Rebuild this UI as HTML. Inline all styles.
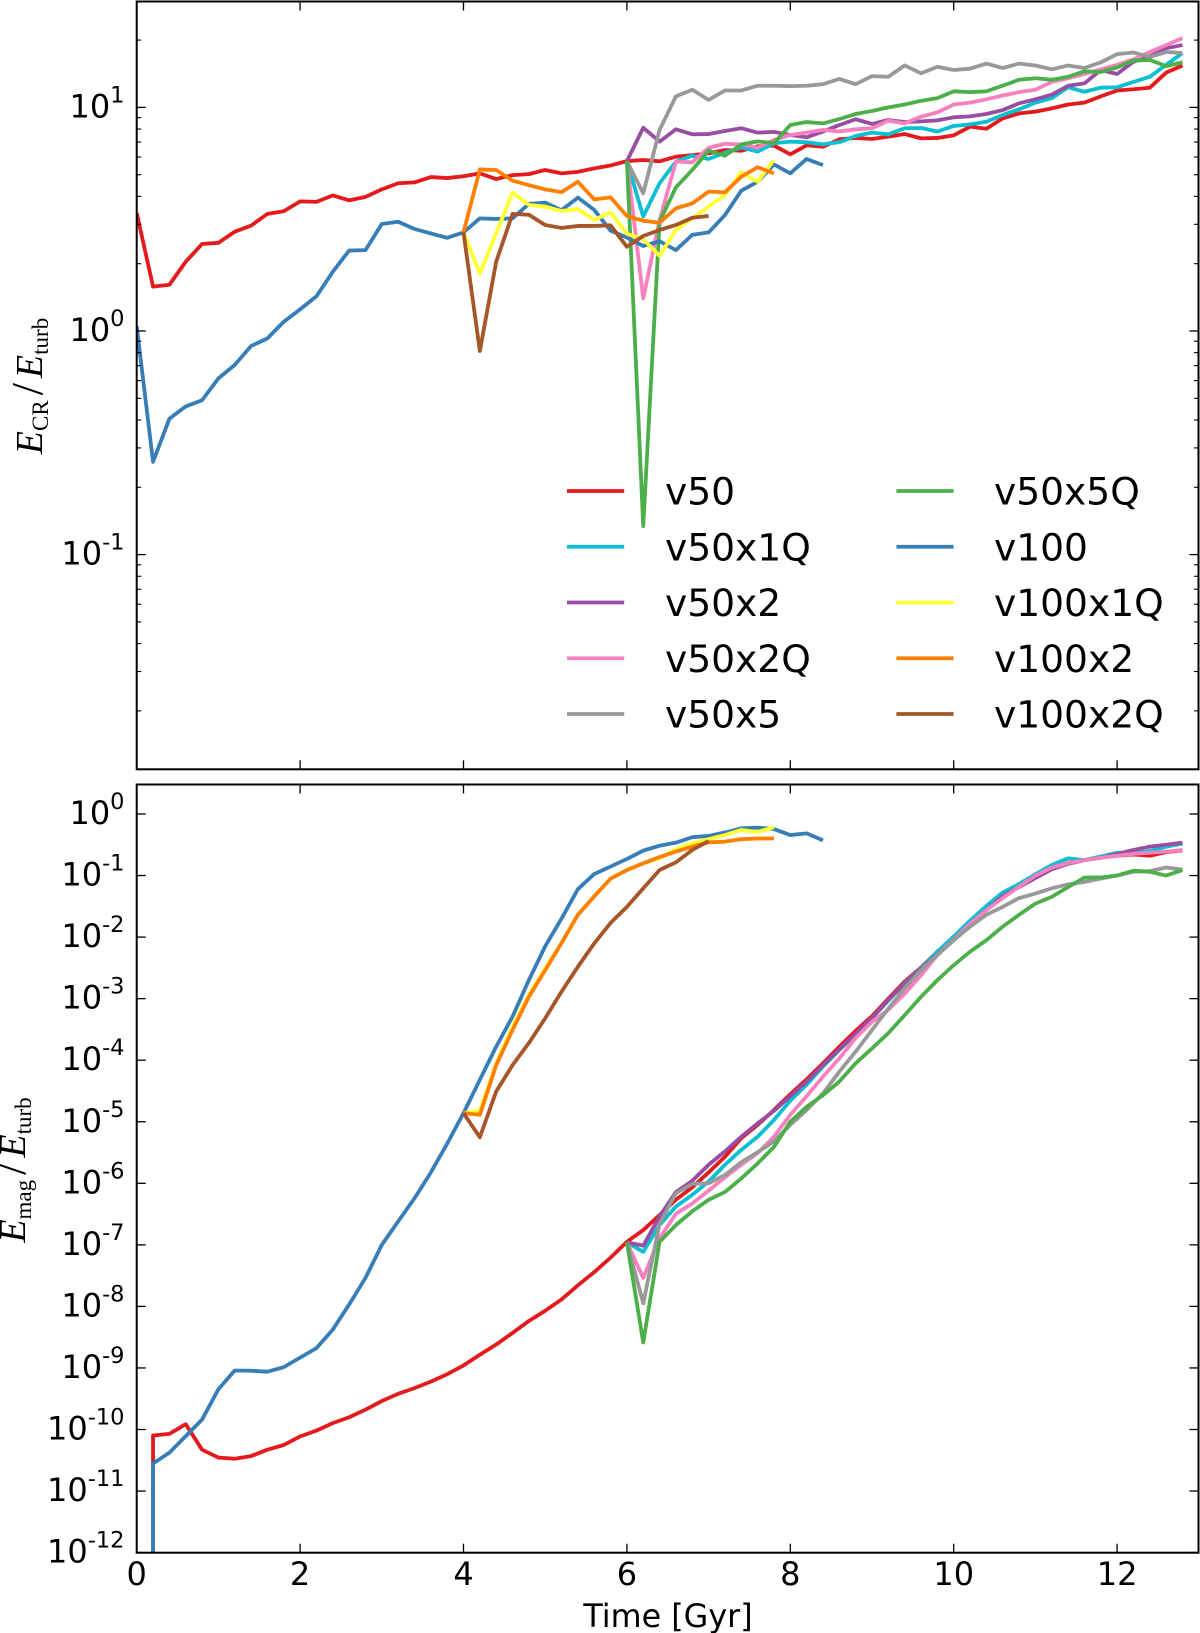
<!DOCTYPE html>
<html lang="en">
<head>
<meta charset="utf-8">
<title>Energy ratios over time</title>
<style>
html,body{margin:0;padding:0;background:#fff;}
svg{display:block;}
text{font-family:"DejaVu Sans","Liberation Sans",sans-serif;fill:#000;}
.serif,.serif tspan{font-family:"Liberation Serif","DejaVu Serif",serif;}
</style>
</head>
<body>
<svg id="chart" xmlns="http://www.w3.org/2000/svg" width="1200" height="1633" viewBox="0 0 1200 1633">
<defs>
<clipPath id="clipCr"><rect x="136.7" y="1.5" width="1061.8" height="767.8"/></clipPath>
<clipPath id="clipMag"><rect x="136.7" y="784.5" width="1061.8" height="768.2"/></clipPath>
</defs>
<rect width="1200" height="1633" fill="#fff"/>
<g id="crLines" clip-path="url(#clipCr)"></g>
<g id="magLines" clip-path="url(#clipMag)"></g>
<g id="axes"></g>
<g id="legend"></g>
<text class="serif" transform="translate(42,386) rotate(-90)" text-anchor="middle" font-size="38"><tspan font-style="italic">E</tspan><tspan font-size="23" dy="6">CR</tspan><tspan dy="-6" dx="5" font-size="44">/</tspan><tspan font-style="italic" dx="5">E</tspan><tspan font-size="23" dy="6">turb</tspan></text>
<text class="serif" transform="translate(25,1170) rotate(-90)" text-anchor="middle" font-size="38"><tspan font-style="italic">E</tspan><tspan font-size="23" dy="6">mag</tspan><tspan dy="-6" dx="5" font-size="44">/</tspan><tspan font-style="italic" dx="5">E</tspan><tspan font-size="23" dy="6">turb</tspan></text>
<text x="668" y="1627" text-anchor="middle" font-size="31.8">Time [Gyr]</text>
</svg>
<script>
const times = [0,0.2,0.4,0.6,0.8,1,1.2,1.4,1.6,1.8,2,2.2,2.4,2.6,2.8,3,3.2,3.4,3.6,3.8,4,4.2,4.4,4.6,4.8,5,5.2,5.4,5.6,5.8,6,6.2,6.4,6.6,6.8,7,7.2,7.4,7.6,7.8,8,8.2,8.4,8.6,8.8,9,9.2,9.4,9.6,9.8,10,10.2,10.4,10.6,10.8,11,11.2,11.4,11.6,11.8,12,12.2,12.4,12.6,12.8];

const seriesNames = ['v50','v50x1Q','v50x2','v50x2Q','v50x5','v50x5Q','v100','v100x1Q','v100x2','v100x2Q'];
const seriesColors = ['#e41a1c','#0abfd2','#984ea3','#f781bf','#999999','#4daf4a','#377eb8','#ffff33','#ff7f00','#a65628'];

const xTicks = [0,2,4,6,8,10,12];
const crTickExps = [1,0,-1];
const magTickExps = [0,-1,-2,-3,-4,-5,-6,-7,-8,-9,-10,-11,-12];
const crMinorDecades = [-2,-1,0,1];
const crMinorFactors = [2,3,4,5,6,7,8,9];

/* E_CR / E_turb, first value at the start time listed in crStarts */
const crStarts = [0,6,6,6,6,6,0,4,4,4];
const crV50 = [3.37,1.58,1.61,2.04,2.45,2.48,2.78,2.96,3.34,3.43,3.80,3.78,4.04,3.84,3.98,4.30,4.58,4.62,4.88,4.83,4.92,5.07,4.78,4.98,5.03,5.25,5.07,5.15,5.34,5.5,5.75,5.82,5.74,6.02,6.12,6.23,6.45,6.40,6.70,6.75,6.17,6.77,6.67,7.2,7.3,7.22,7.4,7.6,7.27,7.3,7.5,8.2,8.03,8.93,9.4,9.57,9.9,10.3,10.5,11.2,11.9,12.05,12.25,14.3,15.4];
const crV50x1Q = [5.75,3.25,4.58,5.72,6.08,5.88,6.27,6.62,6.34,6.91,7.03,6.98,6.83,6.99,7.45,7.71,7.58,8.07,8.09,7.8,8.26,8.4,8.63,9.25,9.8,10.5,11.0,12.3,11.75,12.25,12.3,13.0,13.7,15.5,17.5];
const crV50x2 = [5.75,8.11,7.03,7.98,7.58,7.60,7.84,8.07,7.71,7.77,7.53,7.35,7.80,8.34,8.85,8.43,8.78,8.60,8.66,8.75,9.03,9.12,9.34,9.73,10.43,10.87,11.4,12.5,12.8,14.7,14.1,16.0,16.9,18.4,19.0];
const crV50x2Q = [5.75,1.40,3.13,5.72,5.68,6.60,6.88,6.83,6.60,7.15,7.53,7.71,7.93,7.8,7.98,8.07,8.72,8.48,9.09,9.5,10.3,10.5,10.87,11.3,11.7,12.0,13.0,13.5,14.1,14.8,15.5,16.4,17.7,19.0,20.4];
const crV50x5 = [5.75,4.13,7.93,11.2,12.0,10.8,11.9,11.9,12.5,12.5,12.45,12.5,12.7,13.4,12.7,13.8,13.7,15.4,14.2,15.2,14.7,14.9,15.7,15.0,15.7,15.4,14.8,15.4,15.0,15.9,17.3,17.6,16.8,17.7,17.5];
const crV50x5Q = [5.75,0.134,3.08,4.39,5.25,6.41,6.08,6.83,7.05,6.91,8.34,8.6,8.48,8.87,9.34,9.64,10,10.3,10.7,11.0,11.8,11.7,11.8,12.5,13.3,13.5,13.3,13.7,14.5,14.4,15.1,16.2,16.3,15.3,15.9];
const crV100 = [1.05,0.26,0.405,0.46,0.49,0.614,0.705,0.857,0.927,1.10,1.25,1.43,1.84,2.29,2.30,3.01,3.08,2.86,2.73,2.61,2.76,3.19,3.17,3.19,3.70,3.75,3.47,3.95,3.48,2.81,2.62,2.40,2.52,2.30,2.69,2.76,3.30,4.24,4.65,5.56,5.07,5.88,5.52];
const crV100x1Q = [2.76,1.81,2.73,4.16,3.66,3.60,3.44,3.51,3.14,3.40,2.72,2.57,2.17,2.83,3.19,3.60,4.06,5.12,4.65,5.82];
const crV100x2 = [2.76,5.28,5.25,4.70,4.49,4.30,4.18,4.65,3.88,3.96,3.27,3.11,3.05,3.54,3.72,4.20,4.17,4.90,5.40,5.07];
const crV100x2Q = [2.76,0.814,2.04,3.34,3.31,2.98,2.89,2.95,2.95,2.97,2.38,2.66,2.83,2.98,3.21,3.27];
const crSeries = [crV50,crV50x1Q,crV50x2,crV50x2Q,crV50x5,crV50x5Q,crV100,crV100x1Q,crV100x2,crV100x2Q];

/* E_mag / E_turb */
const magStarts = [0.2,6,6,6,6,6,0.2,4,4,4];
const magFloor = 1e-14;
const magV50 = [8e-11,8.5e-11,1.22e-10,4.7e-11,3.5e-11,3.35e-11,3.7e-11,4.7e-11,5.6e-11,7.7e-11,9.6e-11,1.27e-10,1.58e-10,2.1e-10,2.9e-10,3.8e-10,4.7e-10,6e-10,7.9e-10,1.1e-9,1.64e-9,2.4e-9,3.7e-9,5.8e-9,8.5e-9,1.3e-8,2.2e-8,3.6e-8,6.2e-8,1.12e-7,1.74e-7,3.05e-7,5.4e-7,8.6e-7,1.5e-6,2.7e-6,5.4e-6,8.9e-6,1.55e-5,2.8e-5,4.9e-5,8.9e-5,1.66e-4,3e-4,5.2e-4,1e-3,1.9e-3,3.2e-3,5.8e-3,9.6e-3,1.8e-2,3.1e-2,4.8e-2,7e-2,0.102,0.135,0.16,0.178,0.195,0.21,0.22,0.21,0.24,0.257];
const magV50x1Q = [1.1e-7,7.7e-8,2.1e-7,4.2e-7,6.5e-7,1.07e-6,2e-6,3.5e-6,5.7e-6,1.07e-5,2.2e-5,4e-5,7.9e-5,1.47e-4,2.6e-4,4.8e-4,9.3e-4,1.8e-3,3.1e-3,5.8e-3,1.02e-2,1.85e-2,3.2e-2,5.3e-2,7.3e-2,0.105,0.148,0.19,0.178,0.204,0.235,0.23,0.25,0.295,0.33];
const magV50x2 = [1.1e-7,9.7e-8,2.9e-7,7.2e-7,1.1e-6,2e-6,3.3e-6,5.7e-6,9.4e-6,1.5e-5,2.6e-5,4.5e-5,8.3e-5,1.5e-4,2.7e-4,4.9e-4,9.5e-4,1.75e-3,3e-3,5.2e-3,8.9e-3,1.6e-2,2.75e-2,4.6e-2,6.5e-2,9.1e-2,0.126,0.155,0.178,0.195,0.224,0.26,0.295,0.316,0.342];
const magV50x2Q = [1.1e-7,2.9e-8,1.28e-7,3.2e-7,4.7e-7,7.6e-7,1.25e-6,2e-6,3.1e-6,5.7e-6,1.3e-5,2.6e-5,5.4e-5,1.07e-4,2.3e-4,4.2e-4,6.6e-4,1.2e-3,2.4e-3,5.1e-3,9.1e-3,1.65e-2,2.75e-2,4.3e-2,6.6e-2,0.10,0.135,0.16,0.178,0.195,0.21,0.225,0.235,0.245,0.26];
const magV50x5 = [1.1e-7,1.12e-8,2.2e-7,6.9e-7,9.8e-7,1e-6,1.36e-6,2.2e-6,3.2e-6,4.8e-6,8.9e-6,1.55e-5,2.9e-5,6.5e-5,1.38e-4,3.1e-4,6.9e-4,1.48e-3,2.9e-3,5.1e-3,8.9e-3,1.48e-2,2.3e-2,3.1e-2,4.3e-2,5.1e-2,6.2e-2,7.2e-2,7.9e-2,8.9e-2,0.10,0.115,0.118,0.135,0.125];
const magV50x5Q = [1.1e-7,2.6e-9,1.12e-7,2.1e-7,3.5e-7,5.4e-7,7.2e-7,1.2e-6,2.1e-6,3.9e-6,1e-5,1.75e-5,2.7e-5,4.5e-5,8.9e-5,1.55e-4,2.75e-4,5.4e-4,1.07e-3,2e-3,3.5e-3,5.8e-3,8.9e-3,1.48e-2,2.3e-2,3.5e-2,4.5e-2,6.5e-2,9.3e-2,9.3e-2,0.10,0.12,0.115,0.10,0.123];
const magV100 = [2.8e-11,4.2e-11,7.8e-11,1.45e-10,4.5e-10,9.1e-10,9e-10,8.7e-10,1.03e-9,1.47e-9,2.1e-9,4.2e-9,1.07e-8,2.9e-8,1e-7,2.4e-7,5.7e-7,1.5e-6,4.4e-6,1.38e-5,4.8e-5,1.66e-4,5.1e-4,2e-3,7.1e-3,2e-2,6e-2,0.106,0.14,0.186,0.254,0.305,0.342,0.42,0.44,0.50,0.585,0.60,0.57,0.455,0.484,0.372];
const magV100x1Q = [1.38e-5,1.5e-5,8.9e-5,3.5e-4,1.15e-3,3.1e-3,8.1e-3,2.3e-2,4.6e-2,0.089,0.123,0.158,0.19,0.27,0.335,0.39,0.455,0.55,0.51,0.61];
const magV100x2 = [1.38e-5,1.3e-5,8.3e-5,3.1e-4,1.07e-3,2.9e-3,8e-3,2.3e-2,4.6e-2,0.089,0.123,0.158,0.2,0.245,0.295,0.347,0.355,0.39,0.40,0.40];
const magV100x2Q = [1.38e-5,5.6e-6,3.1e-5,8.3e-5,1.9e-4,4.8e-4,1.3e-3,3.3e-3,7.9e-3,1.7e-2,3.1e-2,6.2e-2,0.123,0.164,0.26,0.363];
const magSeries = [magV50,magV50x1Q,magV50x2,magV50x2Q,magV50x5,magV50x5Q,magV100,magV100x1Q,magV100x2,magV100x2Q];

const NS = 'http://www.w3.org/2000/svg';
const plotLeft = 136.7, plotRight = 1198.5;
const crTop = 1.5, crBottom = 769.3, magTop = 784.5, magBottom = 1552.7;

function xScale(t){ return 136.7 + 81.7 * t; }
function yCr(v){ return 331 - 223.6 * Math.log10(v); }
function yMag(v){ return 814 - 61.55 * Math.log10(v); }

function mk(tag, attrs, parent){
  const el = document.createElementNS(NS, tag);
  for (const k in attrs) el.setAttribute(k, attrs[k]);
  parent.appendChild(el);
  return el;
}

function linePath(points){
  return points.map(function(p,i){ return (i ? 'L' : 'M') + p[0].toFixed(2) + ' ' + p[1].toFixed(2); }).join('');
}

const crLines = document.getElementById('crLines');
const magLines = document.getElementById('magLines');
const axes = document.getElementById('axes');
const legend = document.getElementById('legend');

seriesNames.forEach(function(name, s){
  const startIdx = times.findIndex(function(t){ return Math.abs(t - crStarts[s]) < 1e-6; });
  const pts = crSeries[s].map(function(v,i){ return [xScale(times[startIdx + i]), yCr(v)]; });
  const path = mk('path', {d: linePath(pts), fill:'none', stroke: seriesColors[s], 'stroke-width':3.8, 'stroke-linejoin':'round'}, crLines);
  
  
});

seriesNames.forEach(function(name, s){
  const startIdx = times.findIndex(function(t){ return Math.abs(t - magStarts[s]) < 1e-6; });
  const pts = magSeries[s].map(function(v,i){ return [xScale(times[startIdx + i]), yMag(v)]; });
  if (magStarts[s] < 1) pts.unshift([xScale(magStarts[s]), yMag(magFloor)]);
  const path = mk('path', {d: linePath(pts), fill:'none', stroke: seriesColors[s], 'stroke-width':3.8, 'stroke-linejoin':'round'}, magLines);
  
  
});

function tick(x1,y1,x2,y2,w,name){
  const t = mk('line', {x1:x1,y1:y1,x2:x2,y2:y2,stroke:'#000','stroke-width':w}, axes);
  
  
}

[[crTop,crBottom,'cr'],[magTop,magBottom,'mag']].forEach(function(p){
  xTicks.forEach(function(v){
    const x = xScale(v);
    tick(x, p[0], x, p[0] + 9, 1.3, p[2] + '-x-tick-top');
    tick(x, p[1], x, p[1] - 9, 1.3, p[2] + '-x-tick-bottom');
  });
});

crTickExps.forEach(function(e){
  const y = yCr(Math.pow(10,e));
  tick(plotLeft, y, plotLeft + 9, y, 1.3, 'cr-y-tick-left');
  tick(plotRight, y, plotRight - 9, y, 1.3, 'cr-y-tick-right');
});
crMinorDecades.forEach(function(d){
  crMinorFactors.forEach(function(f){
    const y = yCr(f * Math.pow(10,d));
    if (y < crTop || y > crBottom) return;
    tick(plotLeft, y, plotLeft + 4.5, y, 1.1, 'cr-y-minor-tick-left');
    tick(plotRight, y, plotRight - 4.5, y, 1.1, 'cr-y-minor-tick-right');
  });
});
magTickExps.forEach(function(e){
  const y = yMag(Math.pow(10,e));
  tick(plotLeft, y, plotLeft + 9, y, 1.3, 'mag-y-tick-left');
  tick(plotRight, y, plotRight - 9, y, 1.3, 'mag-y-tick-right');
});

function frame(top, bottom, name){
  const r = mk('rect', {x:plotLeft, y:top, width:plotRight-plotLeft, height:bottom-top, fill:'none', stroke:'#000', 'stroke-width':2}, axes);
  
  
}
frame(crTop, crBottom, 'cr-panel-frame');
frame(magTop, magBottom, 'mag-panel-frame');

function powerLabel(e, y, name){
  const t = mk('text', {x:124.5, y:y + 10, 'text-anchor':'end', 'font-size':32}, axes);
  
  
  t.appendChild(document.createTextNode('10'));
  const sup = mk('tspan', {dy:-15, 'font-size':22.5}, t);
  sup.textContent = String(e);
}
crTickExps.forEach(function(e){ powerLabel(e, yCr(Math.pow(10,e)), 'cr-y-tick-label'); });
magTickExps.forEach(function(e){ powerLabel(e, yMag(Math.pow(10,e)), 'mag-y-tick-label'); });

xTicks.forEach(function(v){
  const t = mk('text', {x:xScale(v), y:1585, 'text-anchor':'middle', 'font-size':32}, axes);
  
  
  t.textContent = String(v);
});

seriesNames.forEach(function(name, s){
  const col = s < 5 ? 0 : 1;
  const row = s % 5;
  const hx = col ? 896.4 : 567;
  const tx = col ? 994 : 665;
  const y = 491 + row * 55.75;
  const h = mk('line', {x1:hx, y1:y, x2:hx + 57.2, y2:y, stroke:seriesColors[s], 'stroke-width':3.8}, legend);
  
  
  const t = mk('text', {x:tx, y:y + 13.5, 'font-size':37.6}, legend);
  
  
  t.textContent = name;
});
</script>
</body>
</html>
